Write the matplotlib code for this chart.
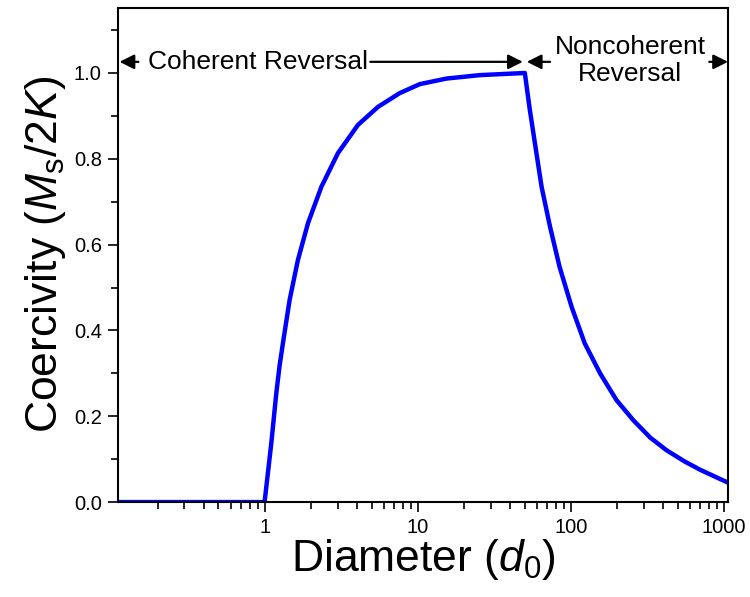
#!/usr/bin/env python3
"""Coercivity vs particle diameter: coherent / noncoherent reversal regimes."""
import matplotlib
matplotlib.use("Agg")
import matplotlib.pyplot as plt
from matplotlib.ticker import FixedLocator, NullFormatter, LogLocator, FuncFormatter

plt.rcParams["font.family"] = ["Liberation Sans", "DejaVu Sans"]
plt.rcParams["mathtext.fontset"] = "custom"
plt.rcParams["mathtext.rm"] = "Liberation Sans"
plt.rcParams["mathtext.it"] = "Liberation Sans:italic"

# diameter in units of d0, coercivity in units of Ms/2K
diameter = [0.11, 1.0, 1.106, 1.192, 1.253, 1.317, 1.457, 1.65, 1.92, 2.35,
            3.01, 4.07, 5.5, 7.62, 10.3, 15.4, 25.4, 50.0,
            53.9, 58.2, 64.3, 73.0, 84.3, 101, 123, 155, 198, 255, 330,
            420, 550, 700, 1064]
coercivity = [0.0, 0.0, 0.137, 0.253, 0.318, 0.37, 0.471, 0.564, 0.65, 0.735,
              0.813, 0.879, 0.921, 0.953, 0.974, 0.987, 0.995, 1.0,
              0.914, 0.836, 0.735, 0.642, 0.548, 0.455, 0.37, 0.30, 0.238,
              0.191, 0.150, 0.121, 0.095, 0.075, 0.045]

D_LO, D_CRIT, D_HI = 0.11, 50.0, 1064
Y_ARROW = 1.026

fig = plt.figure(figsize=(7.5, 5.97), dpi=100)
ax = fig.add_axes([0.157, 0.159, 0.814, 0.828])

ax.plot(diameter, coercivity, color="#0000ff", lw=3.2, solid_joinstyle="round")

ax.set_xscale("log")
ax.set_xlim(D_LO, D_HI)
ax.set_ylim(0, 1.152)

ax.xaxis.set_major_locator(FixedLocator([1, 10, 100, 1000]))
ax.xaxis.set_major_formatter(FuncFormatter(lambda v, p: f"{v:g}"))
ax.xaxis.set_minor_locator(LogLocator(base=10, subs=range(2, 10)))
ax.xaxis.set_minor_formatter(NullFormatter())
ax.yaxis.set_major_locator(FixedLocator([0, 0.2, 0.4, 0.6, 0.8, 1.0]))
ax.yaxis.set_major_formatter(FuncFormatter(lambda v, p: f"{v:.1f}"))
ax.yaxis.set_minor_locator(FixedLocator([0.1, 0.3, 0.5, 0.7, 0.9, 1.1]))

ax.tick_params(which="both", direction="out", top=False, right=False,
               width=1.2, labelsize=14.5)
ax.tick_params(which="major", length=7.5, pad=4)
ax.tick_params(which="minor", length=5)
for s in ax.spines.values():
    s.set_linewidth(1.5)

ax.set_xlabel(r"Diameter ($\mathit{d}_0$)", fontsize=32, labelpad=0)
ax.set_ylabel(r"Coercivity ($\mathit{M}_\mathrm{s}$/2$\mathit{K}$)", fontsize=32, labelpad=4)

arrow = dict(arrowstyle="-|>", color="black", lw=1.6, mutation_scale=22,
             shrinkA=0, shrinkB=0)
# coherent regime
ax.annotate("", xy=(0.113, Y_ARROW), xytext=(0.15, Y_ARROW), arrowprops=arrow)
ax.annotate("", xy=(48.5, Y_ARROW), xytext=(4.9, Y_ARROW), arrowprops=arrow)
ax.text(0.9, Y_ARROW, "Coherent Reversal", fontsize=19, ha="center", va="center")
# noncoherent regime
ax.annotate("", xy=(51.5, Y_ARROW), xytext=(73, Y_ARROW), arrowprops=arrow)
ax.annotate("", xy=(1060, Y_ARROW), xytext=(800, Y_ARROW), arrowprops=arrow)
ax.text(243, 1.03, "Noncoherent\nReversal", fontsize=19, ha="center",
        va="center", linespacing=1.15)

fig.savefig("out.png", dpi=100, facecolor="white")
